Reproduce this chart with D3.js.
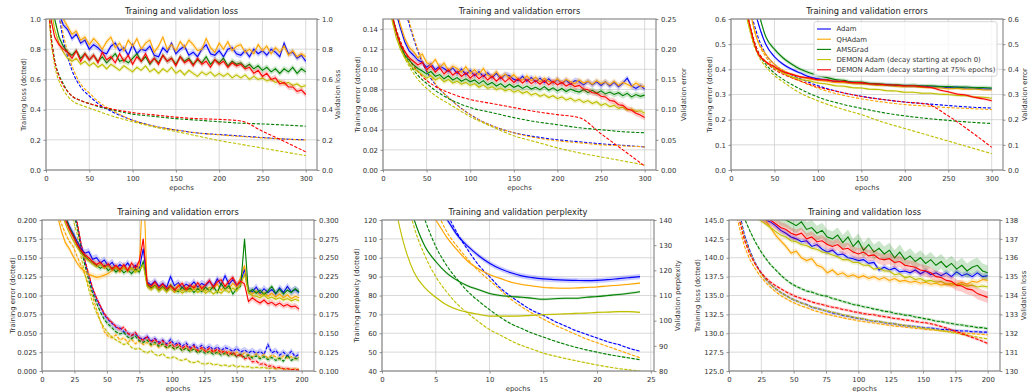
<!DOCTYPE html>
<html>
<head>
<meta charset="utf-8">
<script src="https://cdn.jsdelivr.net/npm/d3@7"></script>
<style>
  body { margin: 0; background: #fff; }
  svg { display: block; font-family: "DejaVu Sans", sans-serif; }
</style>
</head>
<body>
<svg id="chart" width="1028" height="392"></svg>
<script>
// series (legend order)
const seriesNames = ["Adam", "QHAdam", "AMSGrad",
  "DEMON Adam (decay starting at epoch 0)", "DEMON Adam (decay starting at 75% epochs)"];
const seriesColors = ["#0000ff", "#ffa500", "#008000", "#bfbf00", "#ff0000"];

// ---- panel 1: training / validation loss (300 epochs)
const p1TrainEpochs = [1,3,5,8,10,15,20,25,30,40,50,60,75,100,125,150,175,200,225,250,275,300];
const p1Train = [
  [2.0,1.6,1.4,1.22,1.15,1.02,.86,.75,.66,.55,.49,.44,.39,.33,.29,.265,.245,.235,.225,.215,.205,.20],
  [2.0,1.65,1.45,1.25,1.18,1.05,.90,.78,.69,.57,.51,.455,.40,.33,.29,.265,.245,.233,.222,.213,.205,.198],
  [1.5,1.15,.95,.80,.73,.63,.57,.52,.49,.46,.44,.42,.40,.37,.355,.34,.33,.32,.31,.305,.298,.29],
  [1.45,1.1,.9,.76,.69,.59,.53,.49,.46,.43,.41,.39,.36,.32,.285,.255,.225,.195,.17,.145,.12,.095],
  [1.5,1.12,.93,.79,.72,.62,.56,.52,.49,.46,.44,.425,.405,.38,.365,.35,.34,.335,.325,.257,.19,.12]
];
const p1ValEpochs = d3.range(0, 301, 5);
const p1Val = [
  [1.60,1.30,1.12,1.04,.96,.93,.87,.90,.84,.86,
   .80,.83,.81,.78,.77,.82,.84,.79,.81,.76,
   .83,.77,.80,.79,.82,.76,.75,.81,.78,.84,
   .77,.80,.82,.76,.78,.75,.80,.83,.77,.76,
   .79,.75,.80,.81,.77,.76,.79,.75,.80,.77,
   .79,.76,.80,.78,.75,.84,.77,.78,.74,.76,
   .72],
  [1.70,1.40,1.20,1.08,1.00,.95,.90,.92,.86,.88,
   .83,.87,.84,.80,.85,.88,.81,.84,.79,.86,
   .82,.87,.80,.84,.86,.78,.82,.88,.80,.83,
   .79,.85,.81,.86,.83,.79,.80,.87,.81,.78,
   .84,.80,.85,.79,.82,.83,.78,.80,.77,.83,
   .79,.82,.77,.81,.78,.82,.76,.79,.75,.77,
   .75],
  [1.50,1.20,1.00,.88,.82,.78,.76,.79,.74,.77,
   .73,.76,.72,.75,.71,.74,.77,.72,.73,.71,
   .74,.77,.72,.75,.70,.74,.71,.76,.72,.74,
   .70,.75,.72,.74,.70,.73,.71,.75,.70,.73,
   .71,.74,.69,.72,.70,.71,.68,.70,.67,.69,
   .66,.68,.65,.67,.64,.67,.65,.68,.64,.67,
   .65],
  [1.40,1.10,.93,.84,.78,.74,.72,.74,.70,.72,
   .69,.71,.68,.70,.67,.70,.68,.66,.69,.67,
   .65,.68,.66,.69,.65,.67,.64,.67,.65,.68,
   .64,.66,.63,.66,.64,.62,.65,.63,.65,.62,
   .64,.62,.64,.61,.63,.61,.63,.60,.62,.60,
   .61,.59,.60,.58,.59,.57,.58,.56,.57,.55,
   .56],
  [1.30,1.02,.88,.83,.80,.78,.74,.79,.72,.77,
   .73,.76,.71,.78,.73,.75,.71,.77,.72,.76,
   .70,.75,.72,.77,.71,.74,.70,.76,.72,.74,
   .69,.75,.71,.73,.69,.74,.70,.72,.68,.73,
   .70,.72,.68,.71,.69,.70,.67,.68,.64,.66,
   .62,.64,.60,.61,.57,.58,.55,.55,.52,.53,
   .50]
];
const p1TrainSpread = [0, 0, 0, 0, 0];
const p1ValSpread = [.02, .02, .02, .015, .02];

// ---- panel 2: training / validation errors (300 epochs)
const p2TrainEpochs = p1TrainEpochs;
const p2Train = [
  [.40,.33,.29,.25,.23,.20,.18,.16,.145,.118,.098,.085,.072,.055,.044,.037,.033,.030,.028,.026,.0245,.023],
  [.40,.34,.30,.26,.24,.21,.185,.165,.148,.12,.10,.086,.072,.055,.044,.037,.032,.029,.027,.025,.024,.023],
  [.25,.21,.19,.165,.155,.138,.125,.114,.106,.094,.086,.079,.071,.062,.057,.052,.048,.045,.042,.040,.038,.037],
  [.25,.21,.19,.163,.152,.135,.122,.111,.103,.090,.081,.074,.066,.053,.043,.034,.028,.022,.017,.013,.009,.005],
  [.25,.21,.19,.165,.155,.14,.128,.118,.11,.098,.089,.083,.077,.070,.066,.062,.058,.055,.052,.036,.020,.004]
];
const p2ValEpochs = d3.range(0, 301, 5);
const p2Val = [
  [.40,.34,.30,.26,.235,.212,.197,.19,.182,.178,
   .170,.176,.166,.172,.168,.163,.169,.160,.167,.158,
   .165,.156,.163,.155,.161,.153,.160,.151,.158,.156,
   .150,.148,.155,.147,.153,.146,.152,.145,.151,.144,
   .150,.143,.149,.142,.148,.146,.141,.147,.141,.146,
   .140,.146,.139,.145,.138,.144,.152,.139,.135,.140,
   .134],
  [.42,.36,.31,.27,.24,.218,.203,.196,.186,.192,
   .178,.174,.183,.170,.177,.165,.172,.168,.162,.171,
   .160,.166,.158,.168,.157,.155,.163,.153,.159,.152,
   .158,.150,.149,.156,.148,.154,.146,.152,.147,.145,
   .151,.144,.150,.146,.143,.149,.144,.147,.142,.148,
   .143,.146,.141,.147,.140,.145,.142,.138,.144,.139,
   .138],
  [.36,.30,.26,.23,.207,.19,.182,.174,.168,.164,
   .159,.163,.155,.158,.151,.156,.149,.153,.147,.151,
   .146,.149,.143,.148,.141,.145,.139,.143,.137,.142,
   .137,.140,.135,.139,.134,.137,.133,.138,.132,.136,
   .131,.135,.130,.134,.131,.129,.133,.128,.132,.127,
   .131,.126,.129,.125,.128,.123,.127,.121,.125,.122,
   .124],
  [.34,.29,.25,.22,.20,.186,.176,.168,.163,.158,
   .152,.156,.149,.153,.146,.150,.144,.147,.142,.145,
   .140,.143,.137,.141,.135,.138,.133,.136,.131,.134,
   .129,.132,.127,.130,.124,.127,.122,.125,.120,.123,
   .118,.121,.116,.119,.114,.117,.112,.115,.110,.113,
   .107,.110,.105,.107,.102,.104,.099,.101,.097,.098,
   .094],
  [.35,.30,.26,.23,.208,.196,.186,.180,.174,.178,
   .166,.172,.162,.169,.159,.166,.157,.163,.155,.161,
   .152,.159,.151,.157,.149,.155,.147,.154,.146,.152,
   .145,.151,.144,.150,.143,.148,.142,.148,.141,.147,
   .141,.145,.139,.143,.138,.140,.134,.133,.128,.127,
   .122,.121,.115,.114,.108,.107,.101,.099,.094,.091,
   .087]
];
const p2TrainSpread = [0, 0, 0, 0, 0];
const p2ValSpread = [.005, .005, .005, .004, .005];

// ---- panel 3: training / validation errors (300 epochs)
const p3TrainEpochs = p1TrainEpochs;
const p3Train = [
  [1.5,1.3,1.15,1.0,.92,.78,.68,.6,.54,.46,.42,.395,.37,.335,.31,.293,.28,.27,.263,.256,.25,.246],
  [1.5,1.28,1.13,.98,.9,.76,.66,.58,.52,.45,.41,.385,.36,.325,.30,.283,.27,.26,.254,.248,.244,.24],
  [1.4,1.2,1.05,.9,.82,.69,.6,.53,.48,.42,.385,.36,.33,.29,.264,.245,.228,.215,.205,.197,.19,.185],
  [1.35,1.15,1.0,.86,.79,.67,.58,.51,.465,.41,.375,.35,.315,.275,.245,.22,.19,.165,.14,.115,.09,.065],
  [1.4,1.2,1.05,.9,.82,.69,.6,.53,.48,.43,.40,.38,.36,.33,.31,.292,.28,.27,.262,.215,.155,.09]
];
const p3ValEpochs = d3.range(0, 301, 10);
const p3Val = [
  [1.3,.95,.75,.60,.50,.45,.42,.40,.385,.37,
   .362,.358,.351,.350,.348,.344,.343,.339,.340,.335,
   .336,.332,.334,.330,.331,.327,.33,.326,.326,.322,
   .322],
  [1.1,.82,.66,.52,.46,.42,.395,.38,.37,.362,
   .357,.353,.348,.347,.343,.342,.340,.336,.336,.332,
   .331,.331,.328,.327,.327,.323,.324,.321,.322,.319,
   .318],
  [1.3,1.0,.80,.65,.53,.48,.445,.42,.40,.386,
   .375,.368,.359,.356,.349,.349,.344,.343,.339,.339,
   .336,.337,.334,.335,.332,.332,.329,.330,.327,.328,
   .326],
  [1.0,.75,.58,.47,.43,.405,.385,.37,.36,.354,
   .346,.342,.335,.333,.327,.326,.321,.320,.315,.314,
   .309,.309,.305,.305,.301,.300,.296,.295,.290,.289,
   .285],
  [1.0,.76,.60,.47,.43,.41,.39,.38,.37,.366,
   .359,.358,.353,.352,.347,.347,.342,.342,.338,.338,
   .334,.335,.331,.328,.318,.311,.302,.298,.289,.283,
   .275]
];
const p3TrainSpread = [0, 0, 0, 0, 0];
const p3ValSpread = [.006, .005, .008, .005, .005];

// ---- panel 4: training / validation errors (200 epochs)
const p4Epochs = d3.range(0, 199, 3);
const p4Train = [
  [.45,.40,.36,.32,.29,.265,.245,.228,.212,.195,
   .168,.145,.126,.108,.095,.085,.074,.068,.063,.058,
   .057,.052,.050,.047,.049,.044,.042,.046,.040,.043,
   .038,.041,.036,.042,.035,.038,.033,.037,.031,.035,
   .030,.034,.029,.033,.028,.032,.027,.031,.029,.026,
   .030,.025,.028,.024,.027,.023,.026,.022,.035,.024,
   .027,.021,.025,.020,.026,.019,.022],
  [.30,.27,.245,.225,.21,.195,.182,.172,.165,.152,
   .140,.128,.114,.098,.082,.066,.052,.046,.044,.048,
   .041,.044,.038,.042,.036,.040,.035,.038,.033,.036,
   .031,.035,.030,.033,.029,.032,.027,.031,.026,.030,
   .025,.029,.027,.024,.028,.023,.027,.022,.026,.021,
   .025,.020,.024,.021,.019,.023,.018,.022,.017,.021,
   .019,.016,.020,.017,.019,.016,.018],
  [.45,.40,.36,.32,.29,.265,.245,.227,.21,.192,
   .163,.14,.12,.103,.09,.078,.068,.062,.057,.052,
   .049,.051,.045,.043,.046,.040,.038,.041,.035,.038,
   .033,.036,.031,.034,.029,.032,.027,.030,.026,.029,
   .024,.027,.023,.026,.022,.025,.021,.024,.020,.023,
   .019,.022,.018,.021,.017,.020,.016,.019,.015,.018,
   .014,.017,.013,.021,.014,.017,.015],
  [.44,.39,.35,.31,.28,.255,.235,.218,.20,.182,
   .152,.128,.108,.09,.077,.066,.057,.050,.045,.041,
   .038,.035,.037,.031,.029,.030,.026,.024,.027,.022,
   .020,.023,.018,.017,.019,.015,.014,.016,.012,.011,
   .013,.010,.009,.011,.008,.009,.007,.008,.006,.008,
   .005,.007,.005,.006,.004,.005,.004,.005,.003,.004,
   .003,.004,.002,.003,.002,.003,.002],
  [.46,.41,.37,.33,.30,.27,.25,.232,.215,.198,
   .17,.147,.128,.11,.097,.086,.076,.069,.064,.059,
   .055,.058,.050,.047,.051,.043,.041,.045,.038,.042,
   .036,.040,.034,.038,.032,.036,.030,.034,.029,.033,
   .027,.031,.026,.030,.025,.029,.024,.027,.022,.025,
   .020,.022,.016,.018,.012,.013,.009,.010,.006,.007,
   .004,.005,.003,.003,.002,.002,.001]
];
const p4Val = [
  [.50,.44,.40,.36,.34,.32,.305,.292,.282,.272,
   .262,.256,.258,.248,.25,.243,.247,.239,.244,.236,
   .241,.237,.243,.235,.240,.236,.262,.218,.214,.219,
   .212,.216,.211,.225,.213,.217,.210,.215,.212,.218,
   .211,.216,.213,.219,.212,.222,.214,.226,.215,.221,
   .213,.218,.235,.207,.205,.211,.203,.209,.204,.208,
   .202,.210,.204,.212,.205,.208,.204],
  [.45,.40,.36,.33,.305,.285,.27,.262,.252,.243,
   .236,.232,.228,.226,.224,.225,.227,.229,.233,.236,
   .231,.238,.233,.237,.231,.240,.36,.212,.209,.214,
   .207,.211,.206,.212,.208,.214,.206,.211,.207,.213,
   .208,.212,.206,.211,.209,.215,.207,.213,.209,.216,
   .211,.224,.24,.207,.202,.206,.200,.204,.199,.203,
   .198,.202,.197,.201,.196,.199,.197],
  [.50,.45,.40,.365,.34,.32,.305,.29,.28,.268,
   .258,.252,.247,.243,.240,.236,.240,.233,.237,.231,
   .236,.230,.234,.229,.235,.231,.245,.214,.210,.213,
   .207,.212,.206,.214,.208,.205,.211,.206,.210,.204,
   .209,.205,.211,.206,.212,.204,.216,.208,.213,.202,
   .209,.212,.275,.204,.208,.203,.207,.201,.206,.212,
   .203,.208,.202,.207,.204,.209,.205],
  [.48,.43,.39,.355,.33,.31,.295,.283,.273,.264,
   .256,.25,.246,.242,.238,.241,.236,.239,.234,.238,
   .233,.237,.232,.236,.231,.234,.24,.212,.208,.212,
   .206,.210,.205,.209,.204,.208,.203,.207,.205,.209,
   .204,.208,.203,.207,.202,.206,.203,.208,.204,.210,
   .206,.215,.228,.203,.200,.199,.197,.201,.196,.198,
   .195,.197,.194,.196,.193,.195,.193],
  [.50,.44,.40,.36,.335,.315,.30,.288,.278,.268,
   .26,.254,.25,.245,.241,.244,.238,.242,.235,.24,
   .234,.241,.233,.243,.236,.246,.275,.216,.212,.218,
   .210,.215,.209,.213,.207,.212,.216,.208,.214,.210,
   .217,.209,.214,.220,.211,.218,.221,.212,.219,.224,
   .214,.219,.215,.192,.197,.193,.190,.194,.189,.191,
   .187,.190,.186,.188,.185,.186,.182]
];
const p4TrainSpread = [.004, .003, .003, .002, .003];
const p4ValSpread = [.005, .004, .004, .003, .004];

// ---- panel 5: training / validation perplexity (24 epochs, no red run)
const p5Epochs = d3.range(1, 25);
const p5Series = [0, 1, 2, 3];
const p5Train = [
  [300,250,210,175,145,125,113,104,96,90,84,79.5,75.5,72,69.5,66.5,64,61.5,59.5,57.5,55.5,54,52,50.5],
  [280,220,180,148,127,114,106,99,93,88,83,78,74,70.5,67.5,64.5,62,59.5,57,55,53,51,49,47],
  [220,170,138,120,106,96,88.5,82,77,72.5,68.5,65,62.5,60,58,56,54.2,52.6,51.2,50,48.8,47.8,46.9,46],
  [190,140,116,101,90,82,75.5,70.5,66,62,59,56,53.5,51.5,49.5,48,46.7,45.5,44.3,43.2,42.2,41.3,40.6,40]
];
const p5Val = [
  [200,180,165,155,146,140.5,134,129.5,125.8,122.8,120.6,119,117.8,117.1,116.6,116.3,116.1,116,115.9,116,116.3,116.7,117.1,117.5],
  [190,170,155,146,140,133.3,128,123.5,120.5,118.3,116.8,115.3,114.4,113.8,113.2,113,112.9,113,113.2,113.4,113.8,114.1,114.5,114.9],
  [175,155,140,129.5,123.5,119,116,113.8,112.3,110.8,110,109.6,109.3,108.9,108.5,108.7,108.9,108.9,109.3,109.6,110,110.4,110.9,111.5],
  [150,131,119,113,109.3,106.3,104.4,103.3,102.5,101.8,101.8,101.8,101.9,102.1,102.4,102.5,102.7,102.9,103,103.3,103.4,103.6,103.6,103.3]
];
const p5TrainSpread = [.4, .3, .3, .3];
const p5ValSpread = [1.0, .35, .5, .35];

// ---- panel 6: training / validation loss (200 epochs)
const p6Epochs = d3.range(0, 201, 4);
const p6Train = [
  [160,150,146,143,141,139.4,138.2,137.2,136.5,135.9,
   135.4,135.0,134.6,134.3,134.0,133.8,133.45,133.3,133.1,132.9,
   132.7,132.6,132.35,132.25,132.1,131.95,131.9,131.7,131.6,131.55,
   131.4,131.3,131.25,131.1,131.0,130.95,130.9,130.8,130.7,130.7,
   130.6,130.5,130.5,130.4,130.35,130.3,130.3,130.2,130.2,130.15,
   130.15],
  [156,147,144,141.5,139.8,138.6,137.6,136.8,136.1,135.5,
   135.0,134.6,134.2,133.9,133.6,133.4,133.1,132.9,132.7,132.5,
   132.35,132.2,132.05,131.9,131.8,131.65,131.55,131.45,131.35,131.25,
   131.15,131.05,130.95,130.9,130.8,130.75,130.65,130.6,130.5,130.45,
   130.4,130.3,130.25,130.2,130.1,130.05,130.0,129.95,129.9,129.85,
   129.8],
  [160,152,147.5,145.2,143.6,142.2,141.0,140.0,139.1,138.4,
   137.7,137.1,136.6,136.2,135.9,135.6,135.45,135.2,135.0,134.9,
   134.6,134.45,134.2,134.05,133.8,133.7,133.5,133.4,133.2,133.1,
   132.9,132.85,132.65,132.55,132.4,132.35,132.15,132.05,131.9,131.8,
   131.6,131.55,131.4,131.3,131.15,131.1,130.95,130.9,130.75,130.75,
   130.6],
  [158,149,145.5,142.7,140.8,139.3,138.1,137.2,136.5,135.9,
   135.4,135.0,134.6,134.3,134.0,133.75,133.5,133.3,133.1,132.95,
   132.8,132.6,132.45,132.3,132.15,132.0,131.9,131.75,131.65,131.55,
   131.45,131.35,131.25,131.15,131.05,130.95,130.85,130.75,130.65,130.55,
   130.45,130.35,130.25,130.1,130.0,129.85,129.75,129.6,129.5,129.35,
   129.25],
  [158,149,145,142.3,140.5,139.2,138.2,137.4,136.8,136.3,
   135.9,135.5,135.15,134.85,134.6,134.4,134.15,133.95,133.8,133.6,
   133.45,133.35,133.15,133.05,132.85,132.75,132.6,132.5,132.45,132.3,
   132.2,132.1,131.95,131.9,131.75,131.7,131.55,131.45,131.4,131.25,
   131.1,130.9,130.7,130.45,130.2,129.95,129.7,129.45,129.2,128.95,
   128.65]
];
const p6Val = [
  [141,140.2,139.6,139.1,138.7,138.4,138.2,138.0,137.9,137.7,
   137.45,137.3,137.1,137.0,136.85,136.9,136.6,136.7,136.45,136.3,
   136.4,136.15,136.2,136.0,135.95,135.85,135.9,135.7,135.75,135.35,
   135.5,135.35,135.45,135.25,135.3,135.2,135.35,135.15,135.3,135.1,
   135.2,135.05,135.2,135.0,135.25,135.05,135.15,135.0,135.2,135.0,
   135.05],
  [140.5,139.9,139.4,139.0,138.7,138.45,138.2,138.0,137.6,137.2,
   136.9,136.6,136.25,136.35,136.0,135.85,135.95,135.6,135.5,135.2,
   135.35,135.1,135.2,135.0,135.1,134.95,135.05,134.9,135.0,134.85,
   134.95,134.8,134.9,134.75,134.8,134.7,134.75,134.65,134.7,134.6,
   134.65,134.55,134.6,134.55,134.6,134.7,134.6,134.75,134.7,134.85,
   134.8],
  [142,141,140.5,140,139.6,139.3,139,138.7,138.5,138.3,
   138.1,138.0,137.85,137.7,137.9,137.5,137.6,137.3,137.45,137.1,
   137.0,137.2,136.8,137.1,136.6,136.9,136.4,136.7,136.3,136.5,
   136.2,136.4,136.0,136.3,135.9,136.1,135.8,136.0,135.7,135.9,
   135.6,135.8,135.5,135.7,135.4,135.6,135.3,135.5,135.6,135.3,
   135.2],
  [140.5,139.8,139.2,138.8,138.5,138.2,138.0,137.8,137.6,137.4,
   137.2,137.1,136.9,136.85,136.7,136.65,136.5,136.45,136.3,136.25,
   136.15,136.05,135.9,135.9,135.75,135.75,135.6,135.6,135.4,135.45,
   135.3,135.3,135.1,135.15,134.95,135.0,134.85,134.9,134.75,134.8,
   134.7,134.75,134.6,134.65,134.55,134.6,134.5,134.55,134.45,134.5,
   134.45],
  [141,140.3,139.7,139.2,138.8,138.5,138.3,138.1,138.0,137.8,
   137.6,137.5,137.3,137.2,137.3,137.0,137.1,136.85,136.9,136.7,
   136.6,136.7,136.45,136.5,136.3,136.2,136.3,136.1,136.15,135.95,
   135.9,135.95,135.75,135.8,135.6,135.55,135.5,135.35,135.3,135.2,
   135.0,134.95,134.8,134.75,134.55,134.5,134.35,134.3,134.1,134.0,
   133.9]
];
const p6TrainSpread = [.2, .15, .2, .15, .2];
const p6ValSpread = [.15, .15, .4, .12, .3];

// ---- ticks
const xTicks300 = [0, 50, 100, 150, 200, 250, 300];
const xTicks200 = [0, 25, 50, 75, 100, 125, 150, 175, 200];
const xTicks25 = [0, 5, 10, 15, 20, 25];
const ticksLoss = [0, .2, .4, .6, .8, 1.0];
const ticksErr2L = [0, .02, .04, .06, .08, .10, .12, .14];
const ticksErr2R = [0, .05, .10, .15, .20, .25];
const ticksErr3 = [0, .1, .2, .3, .4, .5, .6];
const ticksErr4L = [0, .025, .05, .075, .1, .125, .15, .175, .2];
const ticksErr4R = [.1, .125, .15, .175, .2, .225, .25, .275, .3];
const ticksPplL = [40, 50, 60, 70, 80, 90, 100, 110, 120];
const ticksPplR = [80, 90, 100, 110, 120, 130, 140];
const ticksLoss6L = [125, 127.5, 130, 132.5, 135, 137.5, 140, 142.5, 145];
const ticksLoss6R = [130, 131, 132, 133, 134, 135, 136, 137, 138];

const svg = d3.select("#chart");
const FS = 6.9;

function drawSeries(g, x, y, ep, rows, spread, ids, dashed, curve) {
  rows.forEach((vals, i) => {
    const c = seriesColors[ids[i]];
    const pts = vals.map((v, j) => [ep[j], v]);
    if (spread[i] > 0) {
      g.append("path").datum(pts)
        .attr("fill", c).attr("fill-opacity", 0.2).attr("stroke", "none")
        .attr("d", d3.area().curve(curve).x(d => x(d[0]))
          .y0(d => y(d[1] - spread[i])).y1(d => y(d[1] + spread[i])));
    }
    g.append("path").datum(pts)
      .attr("fill", "none").attr("stroke", c).attr("stroke-width", 1.1)
      .attr("stroke-dasharray", dashed ? "3.2,1.6" : null)
      .attr("d", d3.line().curve(curve).x(d => x(d[0])).y(d => y(d[1])));
  });
}

function styleAxis(a) {
  a.select(".domain").remove();
  a.selectAll(".tick line").attr("stroke", "#777").attr("stroke-width", 0.8);
  a.selectAll(".tick text").attr("fill", "#333").style("font-size", FS + "px")
    .style("font-family", "DejaVu Sans, sans-serif");
}

function drawPanel(p) {
  const [x0, x1, y0, y1] = p.box;
  const x = d3.scaleLinear().domain([0, p.xMax]).range([x0, x1]);
  const yL = d3.scaleLinear().domain(p.yL).range([y1, y0]);
  const yR = d3.scaleLinear().domain(p.yR).range([y1, y0]);

  const clipId = "clip" + p.id;
  svg.append("clipPath").attr("id", clipId)
    .append("rect").attr("x", x0).attr("y", y0).attr("width", x1 - x0).attr("height", y1 - y0);

  // grid
  const grid = svg.append("g").attr("stroke", "#cfcfcf").attr("stroke-width", 0.8);
  p.xTicks.forEach(t => grid.append("line").attr("x1", x(t)).attr("x2", x(t)).attr("y1", y0).attr("y2", y1));
  p.yLTicks.forEach(t => grid.append("line").attr("x1", x0).attr("x2", x1).attr("y1", yL(t)).attr("y2", yL(t)));

  const plot = svg.append("g").attr("clip-path", `url(#${clipId})`);
  drawSeries(plot, x, yL, p.train.ep, p.train.rows, p.train.spread, p.ids, true, p.train.curve);
  drawSeries(plot, x, yR, p.val.ep, p.val.rows, p.val.spread, p.ids, false, p.val.curve);

  // spines
  svg.append("rect").attr("x", x0).attr("y", y0).attr("width", x1 - x0).attr("height", y1 - y0)
    .attr("fill", "none").attr("stroke", "#8c8c8c").attr("stroke-width", 1.2);

  const ax = svg.append("g").attr("transform", `translate(0,${y1})`)
    .call(d3.axisBottom(x).tickValues(p.xTicks).tickSize(2.5).tickPadding(3.2).tickFormat(d3.format("d")));
  styleAxis(ax);
  const al = svg.append("g").attr("transform", `translate(${x0},0)`)
    .call(d3.axisLeft(yL).tickValues(p.yLTicks).tickSize(2.5).tickPadding(2.5).tickFormat(d3.format(p.yLFmt)));
  styleAxis(al);
  const ar = svg.append("g").attr("transform", `translate(${x1},0)`)
    .call(d3.axisRight(yR).tickValues(p.yRTicks).tickSize(2.5).tickPadding(2.5).tickFormat(d3.format(p.yRFmt)));
  styleAxis(ar);

  // texts
  svg.append("text").attr("x", (x0 + x1) / 2).attr("y", y0 - 4.6).attr("text-anchor", "middle")
    .attr("fill", "#222").style("font-size", "8.3px").text(p.title);
  svg.append("text").attr("x", (x0 + x1) / 2).attr("y", y1 + 20).attr("text-anchor", "middle")
    .attr("fill", "#333").style("font-size", FS + "px").text("epochs");
  const ym = (y0 + y1) / 2;
  svg.append("text").attr("transform", `translate(${p.yLLabelX},${ym}) rotate(-90)`)
    .attr("text-anchor", "middle").attr("fill", "#333").style("font-size", FS + "px").text(p.yLLabel);
  if (p.yRLabel) {
    svg.append("text").attr("transform", `translate(${p.yRLabelX},${ym}) rotate(-90)`)
      .attr("text-anchor", "middle").attr("fill", "#333").style("font-size", FS + "px").text(p.yRLabel);
  }
}

const all5 = [0, 1, 2, 3, 4];
const TOP = [19, 170], BOT = [220, 371];

drawPanel({ id: 1, box: [46, 317, ...TOP], xMax: 313, xTicks: xTicks300,
  yL: [0, 1], yLTicks: ticksLoss, yLFmt: ".1f", yR: [0, 1], yRTicks: ticksLoss, yRFmt: ".1f",
  title: "Training and validation loss", yLLabel: "Training loss (dotted)", yLLabelX: 25.5,
  yRLabel: "Validation loss", yRLabelX: 339.5, ids: all5,
  train: { ep: p1TrainEpochs, rows: p1Train, spread: p1TrainSpread, curve: d3.curveMonotoneX },
  val: { ep: p1ValEpochs, rows: p1Val, spread: p1ValSpread, curve: d3.curveLinear } });

drawPanel({ id: 2, box: [383, 656, ...TOP], xMax: 313, xTicks: xTicks300,
  yL: [0, .15], yLTicks: ticksErr2L, yLFmt: ".2f", yR: [0, .25], yRTicks: ticksErr2R, yRFmt: ".2f",
  title: "Training and validation errors", yLLabel: "Training error (dotted)", yLLabelX: 359.5,
  yRLabel: "Validation error", yRLabelX: 685.5, ids: all5,
  train: { ep: p2TrainEpochs, rows: p2Train, spread: p2TrainSpread, curve: d3.curveMonotoneX },
  val: { ep: p2ValEpochs, rows: p2Val, spread: p2ValSpread, curve: d3.curveLinear } });

drawPanel({ id: 3, box: [731, 1003, ...TOP], xMax: 313, xTicks: xTicks300,
  yL: [0, .6], yLTicks: ticksErr3, yLFmt: ".1f", yR: [0, .6], yRTicks: ticksErr3, yRFmt: ".1f",
  title: "Training and validation errors", yLLabel: "Training error (dotted)", yLLabelX: 711.5,
  yRLabel: "Validation error", yRLabelX: 1027, ids: all5,
  train: { ep: p3TrainEpochs, rows: p3Train, spread: p3TrainSpread, curve: d3.curveMonotoneX },
  val: { ep: p3ValEpochs, rows: p3Val, spread: p3ValSpread, curve: d3.curveMonotoneX } });

drawPanel({ id: 4, box: [42, 314, ...BOT], xMax: 209.5, xTicks: xTicks200,
  yL: [0, .2], yLTicks: ticksErr4L, yLFmt: ".3f", yR: [.1, .3], yRTicks: ticksErr4R, yRFmt: ".3f",
  title: "Training and validation errors", yLLabel: "Training error (dotted)", yLLabelX: 14.5,
  yRLabel: null, ids: all5,
  train: { ep: p4Epochs, rows: p4Train, spread: p4TrainSpread, curve: d3.curveLinear },
  val: { ep: p4Epochs, rows: p4Val, spread: p4ValSpread, curve: d3.curveLinear } });

drawPanel({ id: 5, box: [382, 654, ...BOT], xMax: 25.3, xTicks: xTicks25,
  yL: [40, 120], yLTicks: ticksPplL, yLFmt: "d", yR: [80, 140], yRTicks: ticksPplR, yRFmt: "d",
  title: "Training and validation perplexity", yLLabel: "Training perplexity (dotted)", yLLabelX: 359,
  yRLabel: "Validation perplexity", yRLabelX: 679.5, ids: p5Series,
  train: { ep: p5Epochs, rows: p5Train, spread: p5TrainSpread, curve: d3.curveMonotoneX },
  val: { ep: p5Epochs, rows: p5Val, spread: p5ValSpread, curve: d3.curveMonotoneX } });

drawPanel({ id: 6, box: [729, 1000, ...BOT], xMax: 209.5, xTicks: xTicks200,
  yL: [125, 145], yLTicks: ticksLoss6L, yLFmt: ".1f", yR: [130, 138], yRTicks: ticksLoss6R, yRFmt: "d",
  title: "Training and validation loss", yLLabel: "Training loss (dotted)", yLLabelX: 699.5,
  yRLabel: "Validation loss", yRLabelX: 1025.5, ids: all5,
  train: { ep: p6Epochs, rows: p6Train, spread: p6TrainSpread, curve: d3.curveLinear },
  val: { ep: p6Epochs, rows: p6Val, spread: p6ValSpread, curve: d3.curveLinear } });

// legend (panel 3)
const lg = svg.append("g").attr("transform", "translate(814,21.7)");
lg.append("rect").attr("width", 183).attr("height", 54.5).attr("rx", 2)
  .attr("fill", "#fff").attr("fill-opacity", 0.8).attr("stroke", "#cccccc").attr("stroke-width", 0.8);
seriesNames.forEach((name, i) => {
  const yy = 7.3 + i * 10.2;
  lg.append("line").attr("x1", 3).attr("x2", 17).attr("y1", yy).attr("y2", yy)
    .attr("stroke", seriesColors[i]).attr("stroke-width", 1.1);
  lg.append("text").attr("x", 22.5).attr("y", yy + 2.5).attr("fill", "#333")
    .style("font-size", FS + "px").text(name);
});
</script>
</body>
</html>
